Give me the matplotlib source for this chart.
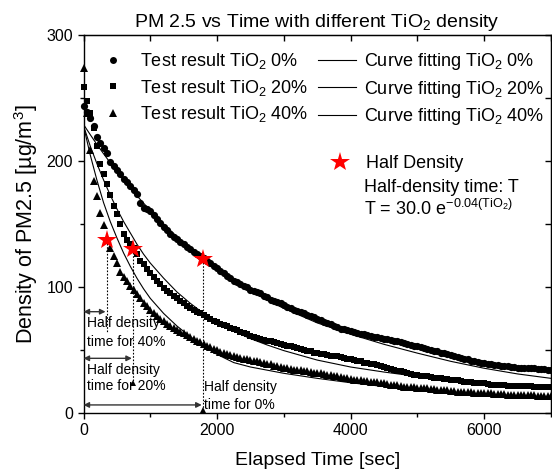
import numpy as np
import matplotlib
matplotlib.use('Agg')
import matplotlib.pyplot as plt
from matplotlib.lines import Line2D
from matplotlib.ticker import MultipleLocator

plt.rcParams['font.family'] = 'Liberation Sans'
plt.rcParams['mathtext.fontset'] = 'custom'
plt.rcParams['mathtext.rm'] = 'Liberation Sans'
plt.rcParams['mathtext.it'] = 'Liberation Sans:italic'
plt.rcParams['mathtext.default'] = 'regular'

elapsed = np.arange(0, 7001, 50)

pm_tio2_0 = [244, 239, 234, 228, 219, 214, 210, 206, 199, 196,
             193, 190, 186, 183, 180, 177, 174, 167, 163, 162,
             160, 157, 154, 151, 148, 145, 142, 140, 138, 136,
             134, 132, 130, 128, 126, 125, 123, 121, 119, 117,
             115, 113, 111, 109, 107, 105, 104, 102, 101, 100,
             98, 97, 96, 95, 93, 92, 90, 89, 88, 87,
             85.5, 84.5, 83, 82, 81, 80, 79, 78, 77, 76,
             75, 74, 72.5, 71.5, 70.5, 69, 68, 67, 66.5, 66,
             65, 64, 63.5, 63, 62.5, 62, 61, 60.5, 60, 59.5,
             59, 58.5, 58, 57.5, 57, 56, 55.5, 55, 54, 53.5,
             53, 52, 51.5, 51, 50, 49.5, 49, 48, 47.5, 47,
             46, 45.5, 44.5, 44, 43, 42.5, 41.5, 41, 40.5, 40,
             39.5, 39, 38.5, 38, 38, 37.5, 37, 37, 36.5, 36.5,
             36, 36, 36, 35.5, 35.5, 35.5, 35, 35, 35, 34.5,
             34.5]

pm_tio2_20 = [259, 248, 238, 226, 212, 198, 190, 182, 173, 164,
              158, 150, 142, 137, 134, 131, 126, 121, 118, 114,
              111, 108, 105, 102, 99.5, 97, 95, 93, 91, 89,
              87, 85, 83.5, 82, 80.5, 79, 78, 76, 74.5, 73,
              72, 71, 70, 69, 67.5, 66.5, 65.5, 64.5, 63.5, 62.5,
              61.5, 60.5, 59.5, 59, 58, 57.5, 57, 56, 55.5, 55,
              54, 53.5, 53, 52, 51.5, 51, 50, 49.5, 49, 48,
              47.5, 47, 46.5, 46, 45.5, 45, 45, 44.5, 44, 43,
              42.5, 42, 41.5, 41, 40, 39.5, 39, 38.5, 38, 37,
              36.5, 35.5, 35, 34, 33.5, 33, 32.5, 32, 31, 30.5,
              30, 29.5, 29.5, 29, 28.5, 28, 28, 27.5, 27, 27,
              26.5, 26, 26, 25.5, 25, 25, 24.5, 24, 24, 23.5,
              23.5, 23, 22.5, 22.5, 22, 22, 22, 21.5, 21.5, 21.5,
              21.5, 21.5, 21.5, 21.5, 21.5, 21, 21, 21, 21, 21,
              21]

pm_tio2_40 = [273.5, 238, 209, 184, 172, 159, 149, 139, 131, 125,
              119, 112, 108, 105, 101, 97.5, 94.5, 91, 87.5, 85,
              82, 79, 77, 75, 73, 71, 69, 67.5, 66, 64.5,
              63.5, 62, 60.5, 59, 57.5, 56, 55, 53.5, 52, 51,
              50, 48.5, 47.5, 46.5, 46, 45, 44.5, 44, 43, 42.5,
              42, 41.5, 41, 40.5, 39.5, 39, 38.5, 37.5, 37, 36.5,
              36, 35.5, 35, 34.5, 34, 34, 33.5, 33, 32.5, 32,
              31.5, 31.5, 31, 30.5, 30, 29.5, 29, 28.5, 28, 27.5,
              27, 26.5, 26, 26, 25.5, 25.5, 25, 25, 24.5, 24,
              23.5, 23, 22.5, 22, 22, 21.5, 21, 21, 20.5, 20.5,
              20, 20, 19.5, 19.5, 19, 19, 18.5, 18.5, 18, 18,
              17.5, 17.5, 17, 17, 16.5, 16.5, 16.5, 16, 16, 16,
              15.5, 15.5, 15.5, 15, 15, 15, 15, 14.5, 14.5, 14.5,
              14.5, 14, 14, 14, 14, 14, 13.5, 13.5, 13.5, 13.5,
              13.5]

# fitted curves
fit_t = [0, 100, 200, 300, 400, 500, 600, 700, 800, 900, 1000, 1200, 1400,
         1600, 1800, 2000, 2250, 2500, 2750, 3000, 3500, 4000, 4500, 5000,
         5500, 6000, 6500, 7000]
fit_0 = [229, 221, 213.2, 205.8, 198.6, 191.7, 185, 178.6, 172.4, 166.5,
         160.8, 150, 139.9, 130.7, 122, 114, 105, 97, 89.5, 83, 71.5,
         62.5, 54.5, 47.5, 41, 35.5, 31, 27.5]
fit_20 = [228, 212, 198, 185, 173, 162, 152, 143, 134, 126, 119, 107, 96,
          87, 79, 72, 65, 59, 54, 49.5, 42, 36.5, 32.5, 29, 26.5, 24.5, 23,
          21.5]
fit_40 = [228, 205, 185, 167, 152, 139, 127, 116.5, 107, 98.5, 91, 79, 69,
          60.5, 53, 46.5, 40, 36.5, 34, 31.5, 27.5, 24, 21, 18.5, 16.5, 15,
          13.5, 12.5]

# half density points (time, density) for 0%, 20%, 40%
half_t = [1790, 745, 350]
half_v = [122.5, 130.5, 137.5]
dotted_bottom = [0, 23.5, 64.5]
arrow_v = [6.4, 43.4, 80.4]

fig = plt.figure(figsize=(5.52, 4.75), dpi=100)
ax = fig.add_axes([83.5 / 552, 1 - 413 / 475, (551 - 83.5) / 552, (413 - 35) / 475])

ax.plot(fit_t, fit_0, color='k', lw=0.8)
ax.plot(fit_t, fit_20, color='k', lw=0.8)
ax.plot(fit_t, fit_40, color='k', lw=0.8)

ax.plot(elapsed, pm_tio2_0, 'o', color='k', ms=5.2, mew=0, clip_on=False, zorder=3)
ax.plot(elapsed, pm_tio2_20, 's', color='k', ms=4.9, mew=0, clip_on=False, zorder=3)
ax.plot(elapsed, pm_tio2_40, '^', color='k', ms=5.6, mew=0, clip_on=False, zorder=3)

# dotted drop lines from the half density stars
for i in range(3):
	ax.plot([half_t[i], half_t[i]], [half_v[i], dotted_bottom[i]], color='k', lw=0.8, ls=(0, (1.5, 1.5)), zorder=2)
ax.plot([half_t[0], half_t[1]], [2, 23.5], '^', color='k', ms=5, mew=0, ls='none', zorder=4)

# double arrows for the half density time
for i in range(3):
	ax.annotate('', xy=(half_t[i] - 20, arrow_v[i]), xytext=(0, arrow_v[i]),
		arrowprops=dict(arrowstyle='<|-|>', color='#333333', lw=1, mutation_scale=8, shrinkA=0, shrinkB=0))

ax.plot(half_t, half_v, '*', color='red', ms=15, mew=0, zorder=6)

ax.text(49, 71.4, 'Half density', fontsize=10, va='center', ha='left')
ax.text(49, 56.5, 'time for 40%', fontsize=10, va='center', ha='left')
ax.text(49, 33.8, 'Half density', fontsize=10, va='center', ha='left')
ax.text(49, 21.2, 'time for 20%', fontsize=10, va='center', ha='left')
ax.text(1805, 20.6, 'Half density', fontsize=10, va='center', ha='left')
ax.text(1805, 6.0, 'time for 0%', fontsize=10, va='center', ha='left')

ax.set_xlim(0, 7000)
ax.set_ylim(0, 300)
ax.xaxis.set_major_locator(MultipleLocator(2000))
ax.xaxis.set_minor_locator(MultipleLocator(1000))
ax.yaxis.set_major_locator(MultipleLocator(100))
ax.yaxis.set_minor_locator(MultipleLocator(50))
ax.tick_params(which='both', direction='out', labelsize=11.5, width=1)
ax.tick_params(which='major', length=4)
ax.tick_params(which='minor', length=3)
for s in ax.spines.values():
	s.set_linewidth(1)

top = ax.secondary_xaxis('top')
top.xaxis.set_major_locator(MultipleLocator(1000))
top.tick_params(direction='in', length=4, labeltop=False, width=1)
right = ax.secondary_yaxis('right')
right.yaxis.set_major_locator(MultipleLocator(50))
right.tick_params(direction='in', length=4, labelright=False, width=1)

ax.set_title('PM 2.5 vs Time with different TiO$_2$ density', fontsize=14, pad=6)
ax.set_xlabel('Elapsed Time [sec]', fontsize=14, labelpad=10)
ax.set_ylabel('Density of PM2.5 [µg/m$^3$]', fontsize=15.5, labelpad=5)

handles = [Line2D([], [], marker='o', color='k', ms=5, mew=0, ls='none'),
           Line2D([], [], marker='s', color='k', ms=4.9, mew=0, ls='none'),
           Line2D([], [], marker='^', color='k', ms=5.4, mew=0, ls='none'),
           Line2D([], [], color='k', lw=0.8),
           Line2D([], [], color='k', lw=0.8),
           Line2D([], [], color='k', lw=0.8)]
labels = ['Test result TiO$_2$ 0%', 'Test result TiO$_2$ 20%', 'Test result TiO$_2$ 40%',
          'Curve fitting TiO$_2$ 0%', 'Curve fitting TiO$_2$ 20%', 'Curve fitting TiO$_2$ 40%']
leg = ax.legend(handles, labels, ncol=2, loc='upper left', bbox_to_anchor=(93.5 / 552, 1 - 51 / 475),
	bbox_transform=fig.transFigure, frameon=False, fontsize=13, handlelength=2.15,
	handletextpad=0.4, columnspacing=0.55, labelspacing=0.36, borderpad=0, borderaxespad=0)
ax.add_artist(leg)

star = Line2D([], [], marker='*', color='red', ms=15, mew=0, ls='none')
ax.legend([star], ['Half Density'], loc='upper left', bbox_to_anchor=(322 / 552, 1 - 155 / 475),
	bbox_transform=fig.transFigure, frameon=False, fontsize=13, handlelength=2,
	handletextpad=0.45, borderpad=0, borderaxespad=0)

fig.text(364 / 552, 1 - 192 / 475, 'Half-density time: T', fontsize=13, va='baseline')
fig.text(364 / 552, 1 - 215 / 475, r'T = 30.0 e$^{-0.04(\mathrm{TiO}_2)}$', fontsize=13, va='baseline')

fig.savefig('out.png', dpi=100)
